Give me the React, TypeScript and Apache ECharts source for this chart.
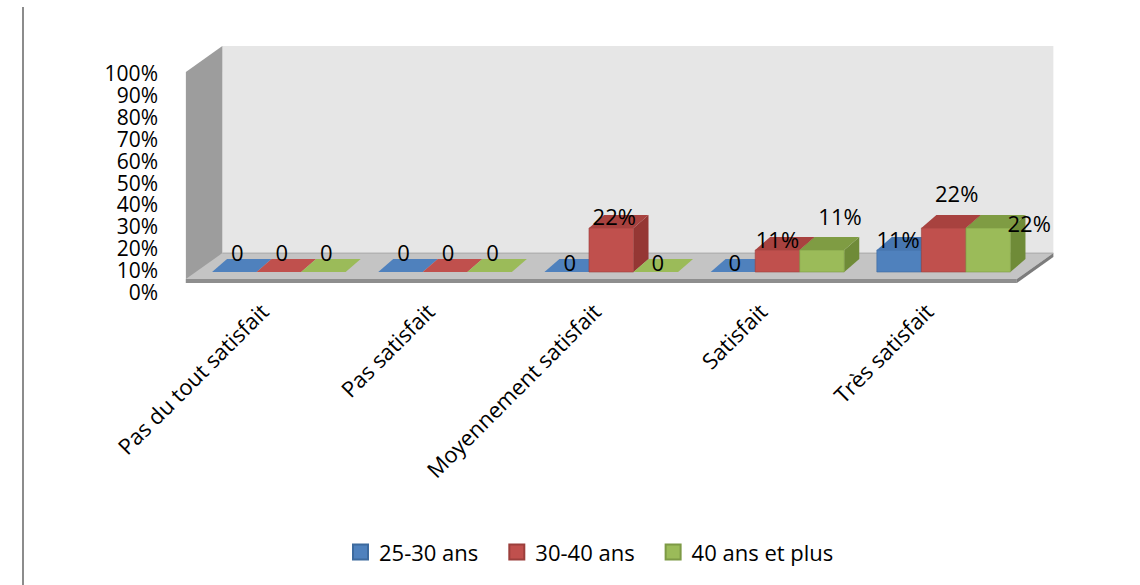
import { useEffect, useRef } from "react";
import * as echarts from "echarts";

// Satisfaction levels (x categories)
const categories = [
  "Pas du tout satisfait",
  "Pas satisfait",
  "Moyennement satisfait",
  "Satisfait",
  "Très satisfait",
];

// Age groups
const groupNames = ["25-30 ans", "30-40 ans", "40 ans et plus"];

// Share of respondents (%) per satisfaction level
const age25to30 = [0, 0, 0, 0, 11];
const age30to40 = [0, 0, 22, 11, 22];
const age40plus = [0, 0, 0, 11, 22];

// Value axis ticks (%)
const axisMin = 0;
const axisMax = 100;
const axisStep = 10;

const groupValues = [age25to30, age30to40, age40plus];

const FONT = "'Open Sans', 'Liberation Sans', sans-serif";

// Face colours of the 3D columns: front, top, side, outline
const faceColors = [
  { front: "#4f81bd", top: "#4776b1", side: "#3b6597", line: "#3d6a9e" },
  { front: "#c0504d", top: "#a8423f", side: "#953734", line: "#9c3f3c" },
  { front: "#9bbb59", top: "#7f9c43", side: "#6f8b38", line: "#7d9a45" },
];

// Small offsets [dx, dy] for each value label, measured from the top-front centre of its column
const labelNudge = [
  [[3, -20], [3, -20], [3, -10], [2, -10], [-1, -11]],
  [[3, -20], [3, -20], [3, -12], [0, -11], [13, -35]],
  [[3, -20], [3, -20], [2, -10], [18, -34], [41, -5]],
];

// Oblique projection used for the walls and floor
const DEPTH_X = 38;
const DEPTH_Y = 27;
const Z_FRONT = -0.26;
const Z_BACK = 0.7;
const WALL_TOP = 103.5;
const FLOOR_THICK = 2;

// Column depth offset
const COL_DX = 15;
const COL_DY = 13;
const COL_SHARE = 0.268;

function columnGeometry(api: any, cat: number, value: number, s: number) {
  const base = api.coord([cat, 0]);
  const band = api.size([1, 0])[0];
  const h = api.size([0, value])[1];
  const w = band * COL_SHARE;
  const x0 = base[0] + (s - 1.5) * w;
  const yb = base[1];
  const yt = yb - h;
  return { x0, w, yb, yt };
}

function makeColumnSeries(s: number) {
  const col = faceColors[s];
  return {
    name: groupNames[s],
    type: "custom",
    xAxisIndex: 0,
    yAxisIndex: 0,
    z: 2,
    itemStyle: { color: col.front, borderColor: col.line, borderWidth: 1 },
    data: groupValues[s].map((v, i) => [i, v]),
    renderItem: (params: any, api: any) => {
      const cat = api.value(0);
      const value = api.value(1);
      const { x0, w, yb, yt } = columnGeometry(api, cat, value, s);
      const children: any[] = [];
      children.push({
        type: "polygon",
        shape: {
          points: [
            [x0 + w, yt],
            [x0 + w + COL_DX, yt - COL_DY],
            [x0 + w + COL_DX, yb - COL_DY],
            [x0 + w, yb],
          ],
        },
        style: { fill: col.side },
      });
      if (yb - yt > 0.5) {
        children.push({
          type: "rect",
          shape: { x: x0, y: yt, width: w, height: yb - yt },
          style: { fill: col.front, stroke: col.line, lineWidth: 0.6 },
        });
      }
      children.push({
        type: "polygon",
        shape: {
          points: [
            [x0, yt],
            [x0 + w, yt],
            [x0 + w + COL_DX, yt - COL_DY],
            [x0 + COL_DX, yt - COL_DY],
          ],
        },
        style: { fill: value > 0 ? col.top : col.front },
      });
      return { type: "group", children };
    },
  };
}

const labelData: number[][] = [];
groupValues.forEach((vals, s) => vals.forEach((v, i) => labelData.push([i, v, s])));

const option: any = {
  animation: false,
  backgroundColor: "#ffffff",
  textStyle: { fontFamily: FONT },
  graphic: [
    {
      type: "line",
      shape: { x1: 23, y1: 7, x2: 23, y2: 585 },
      style: { stroke: "#8c8c8c", lineWidth: 2 },
      silent: true,
    },
  ],
  legend: {
    data: groupNames,
    left: 347,
    top: 536,
    icon: "rect",
    itemWidth: 15,
    itemHeight: 15,
    itemGap: 30,
    textStyle: { fontFamily: FONT, fontSize: 22, color: "#000", padding: [0, 0, 0, 6] },
  },
  grid: [
    // plotting plane of the column fronts
    { left: 195.75, right: 113.25, top: 72, height: 200 },
    // percentage tick labels
    { left: 166, width: 10, top: 73.3, height: 218.6 },
    // category labels
    { left: 180.75, right: 128.25, top: 72, height: 200 },
  ],
  xAxis: [
    {
      gridIndex: 0,
      type: "category",
      data: categories,
      axisLine: { show: false },
      axisTick: { show: false },
      axisLabel: { show: false },
    },
    { gridIndex: 1, type: "value", show: false },
    {
      gridIndex: 2,
      type: "category",
      data: categories,
      axisLine: { show: false },
      axisTick: { show: false },
      axisLabel: {
        interval: 0,
        rotate: 45,
        margin: 35,
        fontSize: 22,
        fontFamily: FONT,
        color: "#000",
      },
    },
  ],
  yAxis: [
    {
      gridIndex: 0,
      type: "value",
      min: axisMin,
      max: axisMax,
      interval: axisStep,
      show: false,
    },
    {
      gridIndex: 1,
      type: "value",
      min: axisMin,
      max: axisMax,
      interval: axisStep,
      axisLine: { show: false },
      axisTick: { show: false },
      splitLine: { show: false },
      axisLabel: {
        formatter: "{value}%",
        margin: 8,
        fontSize: 21,
        lineHeight: 21,
        fontFamily: FONT,
        color: "#000",
      },
    },
    { gridIndex: 2, type: "value", show: false, min: axisMin, max: axisMax },
  ],
  series: [
    {
      name: "scene",
      type: "custom",
      xAxisIndex: 0,
      yAxisIndex: 0,
      z: 1,
      silent: true,
      data: [[0, 0]],
      renderItem: (params: any, api: any) => {
        const c = api.coord([0, 0]);
        const band = api.size([1, 0])[0];
        const unit = api.size([0, 1])[1];
        const xl = c[0] - band / 2;
        const xr = xl + band * categories.length;
        const base = c[1];
        const P = (x: number, v: number, z: number) => [x + z * DEPTH_X, base - v * unit - z * DEPTH_Y];
        return {
          type: "group",
          children: [
            {
              type: "polygon",
              shape: { points: [P(xl, WALL_TOP, Z_BACK), P(xr, WALL_TOP, Z_BACK), P(xr, 0, Z_BACK), P(xl, 0, Z_BACK)] },
              style: { fill: "#e6e6e6" },
            },
            {
              type: "polygon",
              shape: {
                points: [
                  P(xl, WALL_TOP, Z_FRONT),
                  P(xl, WALL_TOP, Z_BACK),
                  P(xl, -FLOOR_THICK, Z_BACK),
                  P(xl, -FLOOR_THICK, Z_FRONT),
                ],
              },
              style: { fill: "#9d9d9d" },
            },
            {
              type: "polygon",
              shape: { points: [P(xl, 0, Z_FRONT), P(xr, 0, Z_FRONT), P(xr, 0, Z_BACK), P(xl, 0, Z_BACK)] },
              style: { fill: "#c4c4c4" },
            },
            {
              type: "polygon",
              shape: {
                points: [
                  P(xl, 0, Z_FRONT),
                  P(xr, 0, Z_FRONT),
                  P(xr, -FLOOR_THICK, Z_FRONT),
                  P(xl, -FLOOR_THICK, Z_FRONT),
                ],
              },
              style: { fill: "#8e8e8e" },
            },
            {
              type: "polygon",
              shape: {
                points: [
                  P(xr, 0, Z_FRONT),
                  P(xr, 0, Z_BACK),
                  P(xr, -FLOOR_THICK, Z_BACK),
                  P(xr, -FLOOR_THICK, Z_FRONT),
                ],
              },
              style: { fill: "#7c7c7c" },
            },
            {
              type: "line",
              shape: {
                x1: P(xl, 0, Z_BACK)[0],
                y1: P(xl, 0, Z_BACK)[1],
                x2: P(xr, 0, Z_BACK)[0],
                y2: P(xr, 0, Z_BACK)[1],
              },
              style: { stroke: "#a8a8a8", lineWidth: 1 },
            },
          ],
        };
      },
    },
    makeColumnSeries(0),
    makeColumnSeries(1),
    makeColumnSeries(2),
    {
      name: "labels",
      type: "custom",
      xAxisIndex: 0,
      yAxisIndex: 0,
      z: 3,
      silent: true,
      data: labelData,
      renderItem: (params: any, api: any) => {
        const cat = api.value(0);
        const value = api.value(1);
        const s = api.value(2);
        const { x0, w, yt } = columnGeometry(api, cat, value, s);
        const nudge = labelNudge[s][cat];
        return {
          type: "text",
          x: x0 + w / 2 + nudge[0],
          y: yt + nudge[1],
          style: {
            text: value === 0 ? "0" : value + "%",
            fill: "#000",
            fontSize: 22,
            fontFamily: FONT,
            align: "center",
            verticalAlign: "middle",
          },
        };
      },
    },
  ],
};

export default function App() {
  const ref = useRef<HTMLDivElement>(null);
  useEffect(() => {
    if (!ref.current) return;
    const chart = echarts.init(ref.current, null, { renderer: "svg" });
    chart.setOption(option);
    return () => chart.dispose();
  }, []);
  return (
    <div
      ref={ref}
      style={{ position: "absolute", left: 0, top: 0, width: 1140, height: 585, background: "#fff" }}
    />
  );
}
